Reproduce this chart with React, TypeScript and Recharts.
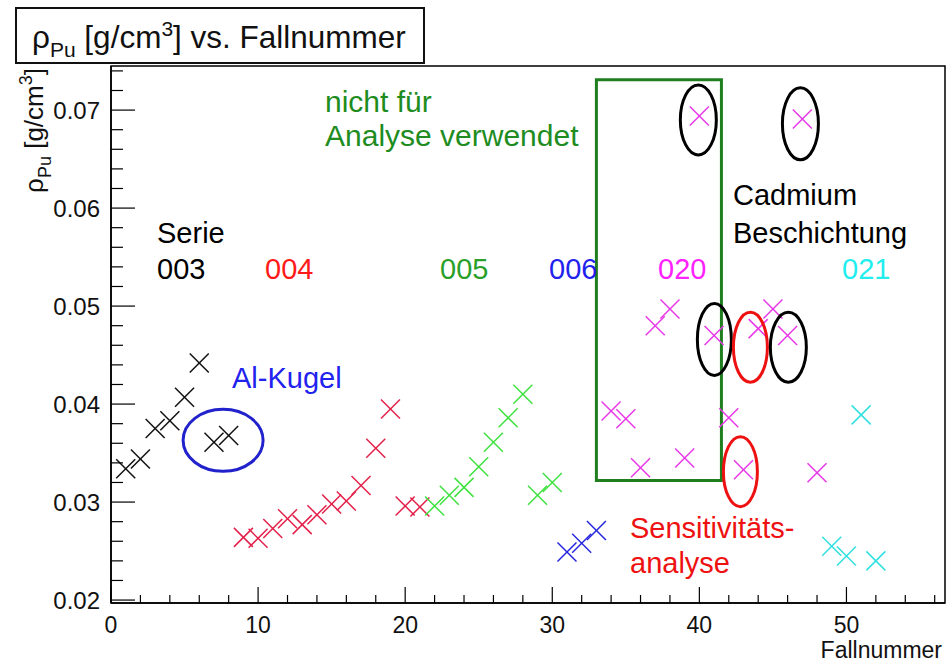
import { ScatterChart, Scatter, XAxis, YAxis, ReferenceArea, ReferenceDot } from 'recharts';

const FONT = '"Liberation Sans", Arial, Helvetica, sans-serif';

// Fallnummer / rho_Pu per Serie
const fall003 = [1, 2, 3, 4, 5, 6, 7, 8];
const rho003 = [0.0334, 0.0344, 0.0375, 0.0383, 0.0407, 0.0442, 0.0361, 0.0368];

const fall004 = [9, 10, 11, 12, 13, 14, 15, 16, 17, 18, 19, 20, 21];
const rho004 = [0.0264, 0.0263, 0.0273, 0.0283, 0.0277, 0.0287, 0.0298, 0.0301, 0.0317, 0.0355, 0.0395, 0.0296, 0.0295];

const fall005 = [22, 23, 24, 25, 26, 27, 28, 29, 30];
const rho005 = [0.0296, 0.0307, 0.0315, 0.0336, 0.0361, 0.0386, 0.041, 0.0307, 0.032];

const fall006 = [31, 32, 33];
const rho006 = [0.0249, 0.0258, 0.0271];

const fall020 = [34, 35, 36, 37, 38, 39, 40, 41, 42, 43, 44, 45, 46, 47, 48];
const rho020 = [0.0393, 0.0385, 0.0335, 0.048, 0.0497, 0.0345, 0.0694, 0.047, 0.0386, 0.0333, 0.0477, 0.0497, 0.047, 0.0691, 0.033];

const fall021 = [49, 50, 51, 52];
const rho021 = [0.0255, 0.0245, 0.0389, 0.024];

const xTicks = [0, 2, 4, 6, 8, 10, 12, 14, 16, 18, 20, 22, 24, 26, 28, 30, 32, 34, 36, 38, 40, 42, 44, 46, 48, 50, 52, 54, 56];
const yTicks = [
  0.02, 0.022, 0.024, 0.026, 0.028, 0.03, 0.032, 0.034, 0.036, 0.038, 0.04, 0.042, 0.044, 0.046,
  0.048, 0.05, 0.052, 0.054, 0.056, 0.058, 0.06, 0.062, 0.064, 0.066, 0.068, 0.07, 0.072, 0.074,
];

const X_MAX = 56.7;
const Y_MIN = 0.0197;
const Y_MAX = 0.0745;

const series = [
  { name: '003', color: '#111111', fall: fall003, rho: rho003 },
  { name: '004', color: '#e3204a', fall: fall004, rho: rho004 },
  { name: '005', color: '#3ee23e', fall: fall005, rho: rho005 },
  { name: '006', color: '#2525dd', fall: fall006, rho: rho006 },
  { name: '020', color: '#e838e8', fall: fall020, rho: rho020 },
  { name: '021', color: '#30e0e0', fall: fall021, rho: rho021 },
];

// markings drawn around single points (data coords, radii in px)
const ellipses = [
  { x: 39.93, y: 0.069, rx: 18, ry: 35, color: '#000' },
  { x: 46.87, y: 0.0686, rx: 18, ry: 36, color: '#000' },
  { x: 41.02, y: 0.0466, rx: 17, ry: 36, color: '#000' },
  { x: 43.47, y: 0.0458, rx: 17, ry: 35, color: '#ee1111' },
  { x: 46.05, y: 0.0458, rx: 18, ry: 35, color: '#000' },
  { x: 42.79, y: 0.0331, rx: 17, ry: 35, color: '#ee1111' },
  { x: 7.62, y: 0.0363, rx: 40, ry: 31, color: '#2222cc' },
];

const seriesLabels = [
  { text: '003', x: 157, color: '#000' },
  { text: '004', x: 265, color: '#ff1a1a' },
  { text: '005', x: 440, color: '#2a9f2a' },
  { text: '006', x: 549, color: '#2222ee' },
  { text: '020', x: 658, color: '#ff22ff' },
  { text: '021', x: 842, color: '#22eeee' },
];

function Cross(props: any) {
  const { cx, cy, color } = props;
  if (cx == null || cy == null) return null;
  const s = 9.5;
  return (
    <g stroke={color} strokeWidth={1.5}>
      <line x1={cx - s} y1={cy - s} x2={cx + s} y2={cy + s} />
      <line x1={cx - s} y1={cy + s} x2={cx + s} y2={cy - s} />
    </g>
  );
}

function XTick(props: any) {
  const { x, y, payload } = props;
  const major = payload.value % 10 === 0;
  return (
    <g>
      <line x1={x} y1={y} x2={x} y2={y - (major ? 16 : 8)} stroke="#000" strokeWidth={1.2} />
      {major && (
        <text x={x} y={y + 30} textAnchor="middle" fontFamily={FONT} fontSize={23} fill="#111">
          {payload.value}
        </text>
      )}
    </g>
  );
}

function YTick(props: any) {
  const { x, y, payload } = props;
  const major = Math.round(payload.value * 1000) % 10 === 0;
  return (
    <g>
      <line x1={x} y1={y} x2={x + (major ? 24 : 12)} y2={y} stroke="#000" strokeWidth={1.2} />
      {major && (
        <text x={x - 11} y={y + 9} textAnchor="end" fontFamily={FONT} fontSize={24} fill="#111">
          {payload.value.toFixed(2)}
        </text>
      )}
    </g>
  );
}

export default function App() {
  return (
    <div style={{ position: 'absolute', left: 0, top: 0, width: 947, height: 664, background: '#fff' }}>
      <ScatterChart width={947} height={664} margin={{ top: 66, right: 2, bottom: 10, left: 10 }}>
        <XAxis
          type="number"
          dataKey="fall"
          domain={[0, X_MAX]}
          ticks={xTicks}
          interval={0}
          height={51}
          tickSize={0}
          tickMargin={0}
          tickLine={false}
          axisLine={{ stroke: '#000', strokeWidth: 1.5 }}
          tick={<XTick />}
        />
        <YAxis
          type="number"
          dataKey="rho"
          domain={[Y_MIN, Y_MAX]}
          ticks={yTicks}
          interval={0}
          width={101}
          tickSize={0}
          tickMargin={0}
          tickLine={false}
          axisLine={{ stroke: '#000', strokeWidth: 1.5 }}
          tick={<YTick />}
        />
        <ReferenceArea x1={0} x2={X_MAX} y1={Y_MIN} y2={Y_MAX} fill="none" stroke="#000" strokeWidth={1.5} ifOverflow="visible" />
        <ReferenceArea x1={33.0} x2={41.5} y1={0.0322} y2={0.0731} fill="none" stroke="#1f7f1f" strokeWidth={3} ifOverflow="visible" />
        {series.map((s) => (
          <Scatter
            key={s.name}
            name={s.name}
            data={s.fall.map((f, i) => ({ fall: f, rho: s.rho[i] }))}
            isAnimationActive={false}
            shape={(p: any) => <Cross {...p} color={s.color} />}
          />
        ))}
        {ellipses.map((e, i) => (
          <ReferenceDot
            key={i}
            x={e.x}
            y={e.y}
            r={1}
            ifOverflow="visible"
            shape={(p: any) => (
              <ellipse cx={p.cx} cy={p.cy} rx={e.rx} ry={e.ry} fill="none" stroke={e.color} strokeWidth={3} />
            )}
          />
        ))}
      </ScatterChart>
      <svg width={947} height={664} style={{ position: 'absolute', left: 0, top: 0, pointerEvents: 'none' }}>
        <rect x={16} y={8} width={408} height={55} fill="#fff" stroke="#111" strokeWidth={2} />
        <text x={32} y={48} fontFamily={FONT} fontSize={31.5} fill="#111">
          ρ<tspan dy={9} fontSize={21}>Pu</tspan>
          <tspan dy={-9}> [g/cm</tspan>
          <tspan dy={-12} fontSize={21}>3</tspan>
          <tspan dy={12}>] vs. Fallnummer</tspan>
        </text>
        <text transform="translate(43,68) rotate(-90)" textAnchor="end" fontFamily={FONT} fontSize={26} fill="#111">
          ρ<tspan dy={8} fontSize={18}>Pu</tspan>
          <tspan dy={-8}> [g/cm</tspan>
          <tspan dy={-11} fontSize={18}>3</tspan>
          <tspan dy={11}>]</tspan>
        </text>
        <text x={942} y={658} textAnchor="end" fontFamily={FONT} fontSize={23} fill="#111">
          Fallnummer
        </text>
        <g fontFamily={FONT} fontSize={29}>
          <text x={325} y={112} fill="#1e8c1e" fontSize={30}>nicht für</text>
          <text x={325} y={146} fill="#1e8c1e" fontSize={30}>Analyse verwendet</text>
          <text x={157} y={243} fill="#000">Serie</text>
          {seriesLabels.map((l) => (
            <text key={l.text} x={l.x} y={279} fill={l.color}>
              {l.text}
            </text>
          ))}
          <text x={232} y={388} fill="#2222ee">Al-Kugel</text>
          <text x={733} y={205} fill="#000">Cadmium</text>
          <text x={733} y={243} fill="#000">Beschichtung</text>
          <text x={630} y={538} fill="#ee1111">Sensitivitäts-</text>
          <text x={630} y={573} fill="#ee1111">analyse</text>
        </g>
      </svg>
    </div>
  );
}
